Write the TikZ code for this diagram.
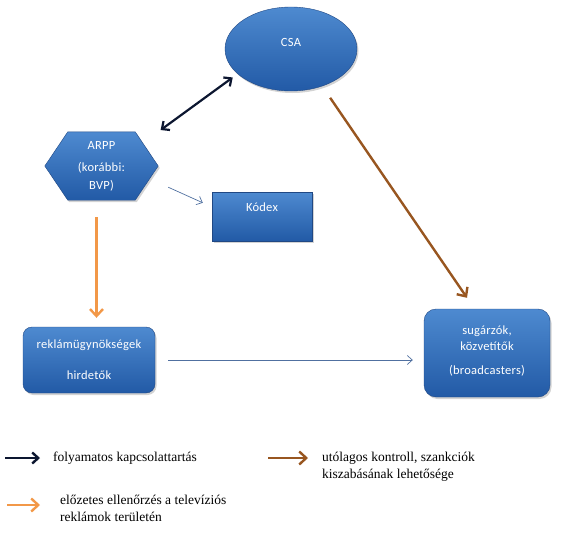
\documentclass[tikz,border=0pt]{standalone}
\usepackage{fontspec}
\setmainfont{Liberation Serif}
\newfontfamily\boxfont[LetterSpace=2]{Carlito}
\usepackage{xcolor}
\usepackage{tikz}
\usetikzlibrary{positioning,arrows.meta,shapes.geometric,shadows,backgrounds}

\definecolor{boxtop}{RGB}{78,138,208}
\definecolor{boxbot}{RGB}{34,90,166}
\definecolor{boxedge}{RGB}{32,72,132}
\definecolor{navyarr}{RGB}{12,22,48}
\definecolor{thinblue}{RGB}{80,112,160}
\definecolor{orangearr}{RGB}{242,152,72}
\definecolor{brownarr}{RGB}{152,86,32}

\begin{document}
\begin{tikzpicture}[
    x=1pt, y=-1pt,
    font=\boxfont\fontsize{12.5}{16}\selectfont,
    every node/.style={align=center},
    blueshape/.style={top color=boxtop, bottom color=boxbot, draw=boxedge, thin, text=white,
        drop shadow={shadow xshift=1.5pt, shadow yshift=-2pt, opacity=0.35}},
    dblarr/.style={{Straight Barb[length=6pt,width=11pt]}-{Straight Barb[length=6pt,width=11pt]}, line width=2.2pt, navyarr},
    thinarr/.style={-{Straight Barb[length=5pt,width=9pt]}, line width=0.7pt, thinblue},
    prearr/.style={-{Straight Barb[length=7pt,width=13pt]}, line width=2.4pt, orangearr},
    postarr/.style={-{Straight Barb[length=7pt,width=13pt]}, line width=2.4pt, brownarr},
    navykey/.style={-{Straight Barb[length=6pt,width=11pt]}, line width=2.4pt, navyarr},
    legend/.style={font=\rmfamily\fontsize{13.5}{17}\selectfont, align=left, inner sep=0pt, anchor=west}
]
\useasboundingbox (0,0) rectangle (565,535);

\node[ellipse, blueshape, minimum width=132pt, minimum height=84pt, text depth=13pt] (csa) at (291,49) {CSA};

\node[text=white, minimum width=113pt, minimum height=68pt] (arpp) at (101.5,166) {ARPP\\[6pt](korábbi:\\[2pt]BVP)};

\node[rectangle, blueshape, minimum width=100pt, minimum height=49pt, text depth=19pt] (kodex) at (262,216.5) {Kódex};

\node[rectangle, blueshape, rounded corners=9pt, minimum width=132pt, minimum height=66pt] (rek) at (89,360) {reklámügynökségek\\[15pt]hirdetők};

\node[rectangle, blueshape, rounded corners=12pt, minimum width=126pt, minimum height=88pt, text depth=6pt] (sug) at (487,353) {sugárzók,\\közvetítők\\[8pt](broadcasters)};

% hexagon behind the ARPP text
\begin{scope}[on background layer]
\path[blueshape] (arpp.west) -- ([xshift=23pt]arpp.north west) -- ([xshift=-23pt]arpp.north east)
    -- (arpp.east) -- ([xshift=-23pt]arpp.south east) -- ([xshift=23pt]arpp.south west) -- cycle;
\end{scope}

\draw[dblarr, shorten <=3pt, shorten >=6pt] (arpp.north east) -- (csa.205);
\draw[thinarr] ([shift={(10pt,13pt)}]arpp.south east) -- ([shift={(-9pt,-11pt)}]kodex.north west);
\draw[prearr, shorten <=17pt, shorten >=9pt] ([xshift=-5pt]arpp.south) -- ([xshift=-5pt]arpp.south |- rek.north);
\draw[thinarr, shorten <=13pt, shorten >=11pt] (rek.east) -- (rek.east -| sug.west);
\draw[postarr, shorten <=14pt] (csa.-50) -- ([shift={(-20pt,11pt)}]sug.north);

% legend
\node[legend] (lg1) at (53,458) {folyamatos kapcsolattartás};
\node[legend] (lg2) at (60,508) {előzetes ellenőrzés a televíziós\\reklámok területén};
\node[legend] (lg3) at (322,466.5) {utólagos kontroll, szankciók\\kiszabásának lehetősége};

\coordinate (k1) at (5,458);
\coordinate (k2) at (7,505);
\coordinate (k3) at (268,458);

\draw[navykey, shorten >=13pt] (k1) -- (lg1.west);
\draw[prearr, shorten >=20pt] (k2) -- (k2 -| lg2.west);
\draw[postarr, shorten >=14pt] (k3) -- (k3 -| lg3.west);

\end{tikzpicture}
\end{document}
